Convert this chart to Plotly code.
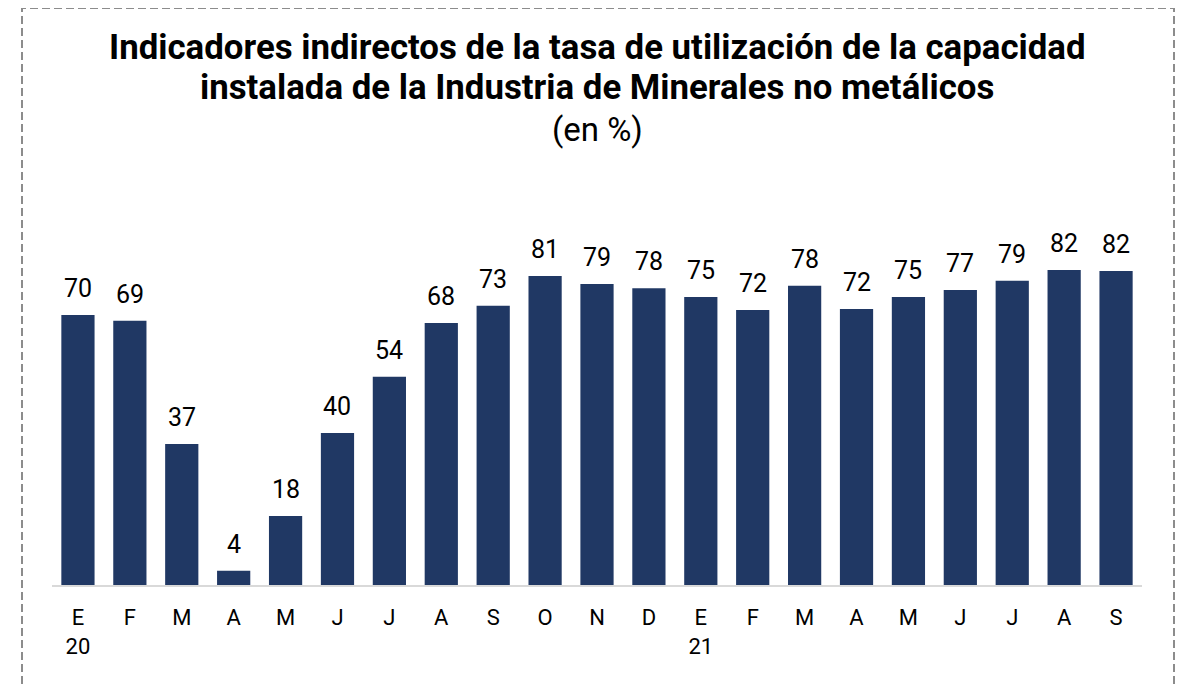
import plotly.graph_objects as go

months = ["E", "F", "M", "A", "M", "J", "J", "A", "S", "O", "N", "D",
          "E", "F", "M", "A", "M", "J", "J", "A", "S"]
years = {0: "20", 12: "21"}
values = [70.3, 68.8, 36.7, 3.7, 18.0, 39.6, 54.2, 68.2, 72.7, 80.5, 78.4, 77.3,
          75.0, 71.6, 77.9, 71.9, 75.0, 76.8, 79.2, 82.0, 81.8]
labels = [70, 69, 37, 4, 18, 40, 54, 68, 73, 81, 79, 78, 75, 72, 78, 72, 75, 77, 79, 82, 82]
title_lines = [
    "<b>Indicadores indirectos de la tasa de utilización de la capacidad</b>",
    "<b>instalada de la Industria de Minerales no metálicos</b>",
    "(en %)",
]

tick_text = [m + ("<br>" + years[i] if i in years else "") for i, m in enumerate(months)]
x = list(range(len(months)))

# page body has an 8px margin; figure is offset by it
OFF = 8
W, H = 1183 - OFF, 685 - OFF
# plot area in page pixels
PL, PR, PT, PB = 52, 1142, 239, 585
L, R, T, B = PL - OFF, W - (PR - OFF), PT - OFF, H - (PB - OFF)
pw, ph = W - L - R, H - T - B


def px_x(p):
    return (p - OFF - L) / pw


def px_y(p):
    return (H - B - (p - OFF)) / ph


fig = go.Figure(go.Bar(
    x=x, y=values,
    marker=dict(color="#203864", line=dict(width=0)),
    cliponaxis=False,
    hoverinfo="skip",
))

for xi, v, lab in zip(x, values, labels):
    fig.add_annotation(
        x=xi, y=v, xref="x", yref="y", text=str(lab), showarrow=False,
        yanchor="bottom", yshift=10,
        font=dict(family="Roboto", size=25, color="#000000"),
    )

title_sizes = [34.8, 34.8, 33]
title_centers = [47, 87, 130]
for txt, sz, cy in zip(title_lines, title_sizes, title_centers):
    fig.add_annotation(
        x=px_x(597), y=px_y(cy), xref="paper", yref="paper", text=txt,
        showarrow=False, xanchor="center", yanchor="middle",
        font=dict(family="Roboto", size=sz, color="#000000"),
    )

fig.add_shape(type="rect", xref="paper", yref="paper",
              x0=px_x(22), x1=px_x(1174), y0=px_y(720), y1=px_y(8),
              line=dict(color="#8c8c8c", width=2, dash="8px,4px"),
              fillcolor="rgba(0,0,0,0)", layer="below")

fig.update_layout(
    width=W, height=H,
    margin=dict(l=L, r=R, t=T, b=B),
    paper_bgcolor="white", plot_bgcolor="white",
    bargap=0.36,
    showlegend=False,
    font=dict(family="Roboto", color="#000000"),
    xaxis=dict(
        tickmode="array", tickvals=x, ticktext=tick_text,
        range=[-0.5, len(months) - 0.5],
        showgrid=False, zeroline=False,
        showline=True, linecolor="#d9d9d9", linewidth=2,
        ticks="outside", ticklen=12, tickcolor="rgba(0,0,0,0)",
        tickfont=dict(family="Roboto", size=22, color="#000000"),
        fixedrange=True,
    ),
    yaxis=dict(
        range=[0, ph / 3.84], visible=False, showgrid=False, zeroline=False,
        fixedrange=True,
    ),
)

fig.write_html("out.html")
